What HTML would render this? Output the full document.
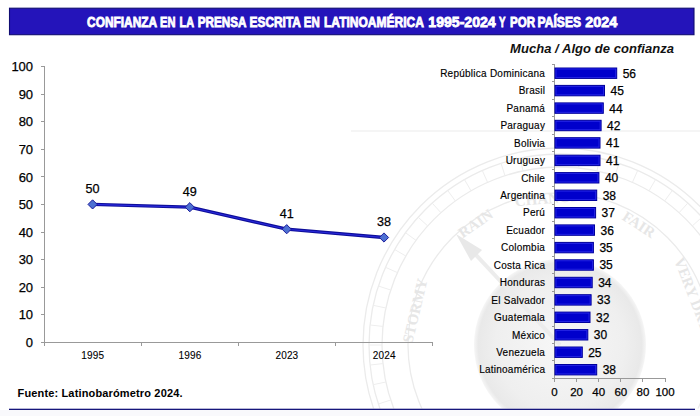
<!DOCTYPE html>
<html><head><meta charset="utf-8"><style>
html,body{margin:0;padding:0;background:#fff;}
body{width:700px;height:416px;overflow:hidden;position:relative;font-family:"Liberation Sans",sans-serif;}
svg{position:absolute;left:0;top:0;}
</style></head><body>
<svg width="700" height="416" viewBox="0 0 700 416">
<defs><clipPath id="wc"><rect x="0" y="0" width="700" height="408.5"/></clipPath></defs>
<g clip-path="url(#wc)">
<defs><radialGradient id="kn" cx="0.5" cy="0.5" r="0.5"><stop offset="0" stop-color="#f7f7f7"/><stop offset="0.75" stop-color="#efefef"/><stop offset="0.95" stop-color="#e9e9e9"/><stop offset="1" stop-color="#f6f6f6"/></radialGradient></defs>
<g fill="none" stroke="#ebebeb" stroke-width="1.3">
<circle cx="560" cy="345" r="197"/>
<circle cx="560" cy="345" r="191"/>
<circle cx="560" cy="345" r="178"/>
<circle cx="560" cy="345" r="152"/>
</g>
<path d="M738.0,345.0 L751.0,345.0 M737.0,363.6 L750.0,365.0 M734.1,382.0 L746.8,384.7 M729.3,400.0 L741.7,404.0 M722.6,417.4 L734.5,422.7 M714.2,434.0 L725.4,440.5 M704.0,449.6 L714.5,457.3 M692.3,464.1 L701.9,472.8 M679.1,477.3 L687.8,486.9 M664.6,489.0 L672.3,499.5 M649.0,499.2 L655.5,510.4 M632.4,507.6 L637.7,519.5 M615.0,514.3 L619.0,526.7 M597.0,519.1 L599.7,531.8 M578.6,522.0 L580.0,535.0 M560.0,523.0 L560.0,536.0 M541.4,522.0 L540.0,535.0 M523.0,519.1 L520.3,531.8 M505.0,514.3 L501.0,526.7 M487.6,507.6 L482.3,519.5 M471.0,499.2 L464.5,510.4 M455.4,489.0 L447.7,499.5 M440.9,477.3 L432.2,486.9 M427.7,464.1 L418.1,472.8 M416.0,449.6 L405.5,457.3 M405.8,434.0 L394.6,440.5 M397.4,417.4 L385.5,422.7 M390.7,400.0 L378.3,404.0 M385.9,382.0 L373.2,384.7 M383.0,363.6 L370.0,365.0 M382.0,345.0 L369.0,345.0 M383.0,326.4 L370.0,325.0 M385.9,308.0 L373.2,305.3 M390.7,290.0 L378.3,286.0 M397.4,272.6 L385.5,267.3 M405.8,256.0 L394.6,249.5 M416.0,240.4 L405.5,232.7 M427.7,225.9 L418.1,217.2 M440.9,212.7 L432.2,203.1 M455.4,201.0 L447.7,190.5 M471.0,190.8 L464.5,179.6 M487.6,182.4 L482.3,170.5 M505.0,175.7 L501.0,163.3 M523.0,170.9 L520.3,158.2 M541.4,168.0 L540.0,155.0 M560.0,167.0 L560.0,154.0 M578.6,168.0 L580.0,155.0 M597.0,170.9 L599.7,158.2 M615.0,175.7 L619.0,163.3 M632.4,182.4 L637.7,170.5 M649.0,190.8 L655.5,179.6 M664.6,201.0 L672.3,190.5 M679.1,212.7 L687.8,203.1 M692.3,225.9 L701.9,217.2 M704.0,240.4 L714.5,232.7 M714.2,256.0 L725.4,249.5 M722.6,272.6 L734.5,267.3 M729.3,290.0 L741.7,286.0 M734.1,308.0 L746.8,305.3 M737.0,326.4 L750.0,325.0" stroke="#eeeeee" stroke-width="1"/>
<circle cx="560" cy="345" r="86" fill="url(#kn)"/>
<g font-family="Liberation Serif" font-weight="bold" font-size="15" fill="#e6e6e6" text-anchor="middle">
<text x="419.9" y="311.9" transform="rotate(-76.69999999999999 419.9 311.9)">STORMY</text>
<text x="478.4" y="227.6" transform="rotate(-34.8 478.4 227.6)">RAIN</text>
<text x="548.1" y="203.5" transform="rotate(-4.799999999999997 548.1 203.5)">CHANGE</text>
<text x="636.1" y="228.7" transform="rotate(33.2 636.1 228.7)">FAIR</text>
<text x="687.9" y="295.9" transform="rotate(69 687.9 295.9)">VERY DRY</text>
</g>
<path d="M560,345 L462,240" stroke="#ececec" stroke-width="4"/>
<path d="M456,234 L482,250 L471,261 Z" fill="#e8e8e8"/>
</g>
<line x1="351" y1="131" x2="700" y2="131" stroke="#f5f5f5" stroke-width="2"/>
<rect x="0" y="410" width="700" height="6" fill="#f9f9fc"/>
<g stroke="#999999" stroke-width="1" shape-rendering="crispEdges">
<line x1="44.5" y1="66.7" x2="44.5" y2="345.7"/>
<line x1="41" y1="342.2" x2="432" y2="342.2"/>
<line x1="41" y1="342.2" x2="44.5" y2="342.2"/>
<line x1="41" y1="314.6" x2="44.5" y2="314.6"/>
<line x1="41" y1="287.1" x2="44.5" y2="287.1"/>
<line x1="41" y1="259.6" x2="44.5" y2="259.6"/>
<line x1="41" y1="232.0" x2="44.5" y2="232.0"/>
<line x1="41" y1="204.4" x2="44.5" y2="204.4"/>
<line x1="41" y1="176.9" x2="44.5" y2="176.9"/>
<line x1="41" y1="149.3" x2="44.5" y2="149.3"/>
<line x1="41" y1="121.8" x2="44.5" y2="121.8"/>
<line x1="41" y1="94.2" x2="44.5" y2="94.2"/>
<line x1="41" y1="66.7" x2="44.5" y2="66.7"/>
<line x1="44.5" y1="342.2" x2="44.5" y2="345.7"/>
<line x1="141.5" y1="342.2" x2="141.5" y2="345.7"/>
<line x1="238.5" y1="342.2" x2="238.5" y2="345.7"/>
<line x1="335.5" y1="342.2" x2="335.5" y2="345.7"/>
<line x1="432.5" y1="342.2" x2="432.5" y2="345.7"/>
</g>
<g font-family="Liberation Sans" font-size="13" fill="#000" stroke="#000" stroke-width="0.25" text-anchor="end">
<text x="33.1" y="346.8">0</text>
<text x="33.1" y="319.2">10</text>
<text x="33.1" y="291.7">20</text>
<text x="33.1" y="264.2">30</text>
<text x="33.1" y="236.6">40</text>
<text x="33.1" y="209.0">50</text>
<text x="33.1" y="181.5">60</text>
<text x="33.1" y="153.9">70</text>
<text x="33.1" y="126.4">80</text>
<text x="33.1" y="98.8">90</text>
<text x="33.1" y="71.3">100</text>
</g>
<g font-family="Liberation Sans" font-size="10" letter-spacing="0.15" fill="#000" stroke="#000" stroke-width="0.1" text-anchor="middle">
<text x="92.8" y="359">1995</text>
<text x="190.0" y="359">1996</text>
<text x="286.9" y="359">2023</text>
<text x="384.2" y="359">2024</text>
</g>
<path d="M92.6,204.4 L189.8,207.2 L286.7,229.2 L384.0,237.5" fill="none" stroke="#0e0e9a" stroke-width="3.3" stroke-linejoin="round"/>
<path d="M92.6,204.4 L189.8,207.2 L286.7,229.2 L384.0,237.5" fill="none" stroke="#2a2ade" stroke-width="1.1" stroke-linejoin="round"/>
<path d="M92.6,199.8 L97.19999999999999,204.4 L92.6,209.0 L88.0,204.4 Z" fill="#4d70d2" stroke="#1c1c9c" stroke-width="1"/>
<path d="M189.8,202.6 L194.4,207.2 L189.8,211.8 L185.20000000000002,207.2 Z" fill="#4d70d2" stroke="#1c1c9c" stroke-width="1"/>
<path d="M286.7,224.6 L291.3,229.2 L286.7,233.8 L282.09999999999997,229.2 Z" fill="#4d70d2" stroke="#1c1c9c" stroke-width="1"/>
<path d="M384,232.9 L388.6,237.5 L384,242.1 L379.4,237.5 Z" fill="#4d70d2" stroke="#1c1c9c" stroke-width="1"/>
<g font-family="Liberation Sans" font-size="12.6" fill="#000" stroke="#000" stroke-width="0.25" text-anchor="middle">
<text x="92.6" y="192.8">50</text>
<text x="189.8" y="195.6">49</text>
<text x="286.7" y="217.6">41</text>
<text x="384" y="225.9">38</text>
</g>
<g stroke="#999999" stroke-width="1" shape-rendering="crispEdges">
<line x1="554.5" y1="64.45" x2="554.5" y2="378.4"/>
<line x1="554.5" y1="378.4" x2="665.5" y2="378.4"/>
<line x1="551.5" y1="64.5" x2="554.5" y2="64.5"/>
<line x1="551.5" y1="81.9" x2="554.5" y2="81.9"/>
<line x1="551.5" y1="99.3" x2="554.5" y2="99.3"/>
<line x1="551.5" y1="116.8" x2="554.5" y2="116.8"/>
<line x1="551.5" y1="134.2" x2="554.5" y2="134.2"/>
<line x1="551.5" y1="151.7" x2="554.5" y2="151.7"/>
<line x1="551.5" y1="169.1" x2="554.5" y2="169.1"/>
<line x1="551.5" y1="186.5" x2="554.5" y2="186.5"/>
<line x1="551.5" y1="204.0" x2="554.5" y2="204.0"/>
<line x1="551.5" y1="221.4" x2="554.5" y2="221.4"/>
<line x1="551.5" y1="238.9" x2="554.5" y2="238.9"/>
<line x1="551.5" y1="256.3" x2="554.5" y2="256.3"/>
<line x1="551.5" y1="273.7" x2="554.5" y2="273.7"/>
<line x1="551.5" y1="291.2" x2="554.5" y2="291.2"/>
<line x1="551.5" y1="308.6" x2="554.5" y2="308.6"/>
<line x1="551.5" y1="326.1" x2="554.5" y2="326.1"/>
<line x1="551.5" y1="343.5" x2="554.5" y2="343.5"/>
<line x1="551.5" y1="360.9" x2="554.5" y2="360.9"/>
<line x1="551.5" y1="378.4" x2="554.5" y2="378.4"/>
<line x1="554.5" y1="378.4" x2="554.5" y2="381.9"/>
<line x1="576.6" y1="378.4" x2="576.6" y2="381.9"/>
<line x1="598.7" y1="378.4" x2="598.7" y2="381.9"/>
<line x1="620.8" y1="378.4" x2="620.8" y2="381.9"/>
<line x1="642.9" y1="378.4" x2="642.9" y2="381.9"/>
<line x1="665.0" y1="378.4" x2="665.0" y2="381.9"/>
</g>
<rect x="555.0" y="68.0" width="61.7" height="10.4" fill="#0000cc" stroke="#00009c" stroke-width="1"/>
<rect x="556.0" y="69.0" width="59.7" height="8.4" fill="none" stroke="#2a2ae8" stroke-width="0.8"/>
<rect x="555.0" y="85.4" width="49.5" height="10.4" fill="#0000cc" stroke="#00009c" stroke-width="1"/>
<rect x="556.0" y="86.4" width="47.5" height="8.4" fill="none" stroke="#2a2ae8" stroke-width="0.8"/>
<rect x="555.0" y="102.9" width="48.3" height="10.4" fill="#0000cc" stroke="#00009c" stroke-width="1"/>
<rect x="556.0" y="103.9" width="46.3" height="8.4" fill="none" stroke="#2a2ae8" stroke-width="0.8"/>
<rect x="555.0" y="120.3" width="46.1" height="10.4" fill="#0000cc" stroke="#00009c" stroke-width="1"/>
<rect x="556.0" y="121.3" width="44.1" height="8.4" fill="none" stroke="#2a2ae8" stroke-width="0.8"/>
<rect x="555.0" y="137.7" width="45.0" height="10.4" fill="#0000cc" stroke="#00009c" stroke-width="1"/>
<rect x="556.0" y="138.7" width="43.0" height="8.4" fill="none" stroke="#2a2ae8" stroke-width="0.8"/>
<rect x="555.0" y="155.2" width="45.0" height="10.4" fill="#0000cc" stroke="#00009c" stroke-width="1"/>
<rect x="556.0" y="156.2" width="43.0" height="8.4" fill="none" stroke="#2a2ae8" stroke-width="0.8"/>
<rect x="555.0" y="172.6" width="43.9" height="10.4" fill="#0000cc" stroke="#00009c" stroke-width="1"/>
<rect x="556.0" y="173.6" width="41.9" height="8.4" fill="none" stroke="#2a2ae8" stroke-width="0.8"/>
<rect x="555.0" y="190.1" width="41.7" height="10.4" fill="#0000cc" stroke="#00009c" stroke-width="1"/>
<rect x="556.0" y="191.1" width="39.7" height="8.4" fill="none" stroke="#2a2ae8" stroke-width="0.8"/>
<rect x="555.0" y="207.5" width="40.6" height="10.4" fill="#0000cc" stroke="#00009c" stroke-width="1"/>
<rect x="556.0" y="208.5" width="38.6" height="8.4" fill="none" stroke="#2a2ae8" stroke-width="0.8"/>
<rect x="555.0" y="224.9" width="39.5" height="10.4" fill="#0000cc" stroke="#00009c" stroke-width="1"/>
<rect x="556.0" y="225.9" width="37.5" height="8.4" fill="none" stroke="#2a2ae8" stroke-width="0.8"/>
<rect x="555.0" y="242.4" width="38.4" height="10.4" fill="#0000cc" stroke="#00009c" stroke-width="1"/>
<rect x="556.0" y="243.4" width="36.4" height="8.4" fill="none" stroke="#2a2ae8" stroke-width="0.8"/>
<rect x="555.0" y="259.8" width="38.4" height="10.4" fill="#0000cc" stroke="#00009c" stroke-width="1"/>
<rect x="556.0" y="260.8" width="36.4" height="8.4" fill="none" stroke="#2a2ae8" stroke-width="0.8"/>
<rect x="555.0" y="277.3" width="37.2" height="10.4" fill="#0000cc" stroke="#00009c" stroke-width="1"/>
<rect x="556.0" y="278.3" width="35.2" height="8.4" fill="none" stroke="#2a2ae8" stroke-width="0.8"/>
<rect x="555.0" y="294.7" width="36.1" height="10.4" fill="#0000cc" stroke="#00009c" stroke-width="1"/>
<rect x="556.0" y="295.7" width="34.1" height="8.4" fill="none" stroke="#2a2ae8" stroke-width="0.8"/>
<rect x="555.0" y="312.1" width="35.0" height="10.4" fill="#0000cc" stroke="#00009c" stroke-width="1"/>
<rect x="556.0" y="313.1" width="33.0" height="8.4" fill="none" stroke="#2a2ae8" stroke-width="0.8"/>
<rect x="555.0" y="329.6" width="32.8" height="10.4" fill="#0000cc" stroke="#00009c" stroke-width="1"/>
<rect x="556.0" y="330.6" width="30.8" height="8.4" fill="none" stroke="#2a2ae8" stroke-width="0.8"/>
<rect x="555.0" y="347.0" width="27.3" height="10.4" fill="#0000cc" stroke="#00009c" stroke-width="1"/>
<rect x="556.0" y="348.0" width="25.3" height="8.4" fill="none" stroke="#2a2ae8" stroke-width="0.8"/>
<rect x="555.0" y="364.5" width="41.7" height="10.4" fill="#0000cc" stroke="#00009c" stroke-width="1"/>
<rect x="556.0" y="365.5" width="39.7" height="8.4" fill="none" stroke="#2a2ae8" stroke-width="0.8"/>
<g font-family="Liberation Sans" font-size="10" letter-spacing="0.25" fill="#000" stroke="#000" stroke-width="0.15" text-anchor="end">
<text x="545.2" y="76.9">República Dominicana</text>
<text x="545.2" y="94.3">Brasil</text>
<text x="545.2" y="111.8">Panamá</text>
<text x="545.2" y="129.2">Paraguay</text>
<text x="545.2" y="146.6">Bolivia</text>
<text x="545.2" y="164.1">Uruguay</text>
<text x="545.2" y="181.5">Chile</text>
<text x="545.2" y="198.9">Argentina</text>
<text x="545.2" y="216.4">Perú</text>
<text x="545.2" y="233.8">Ecuador</text>
<text x="545.2" y="251.3">Colombia</text>
<text x="545.2" y="268.7">Costa Rica</text>
<text x="545.2" y="286.2">Honduras</text>
<text x="545.2" y="303.6">El Salvador</text>
<text x="545.2" y="321.0">Guatemala</text>
<text x="545.2" y="338.5">México</text>
<text x="545.2" y="355.9">Venezuela</text>
<text x="545.2" y="373.4">Latinoamérica</text>
</g>
<g font-family="Liberation Sans" font-size="12" fill="#000" stroke="#000" stroke-width="0.25">
<text x="622.7" y="77.6">56</text>
<text x="610.5" y="95.0">45</text>
<text x="609.3" y="112.5">44</text>
<text x="607.1" y="129.9">42</text>
<text x="606.0" y="147.3">41</text>
<text x="606.0" y="164.8">41</text>
<text x="604.9" y="182.2">40</text>
<text x="602.7" y="199.7">38</text>
<text x="601.6" y="217.1">37</text>
<text x="600.5" y="234.5">36</text>
<text x="599.4" y="252.0">35</text>
<text x="599.4" y="269.4">35</text>
<text x="598.2" y="286.9">34</text>
<text x="597.1" y="304.3">33</text>
<text x="596.0" y="321.7">32</text>
<text x="593.8" y="339.2">30</text>
<text x="588.2" y="356.6">25</text>
<text x="602.7" y="374.1">38</text>
</g>
<g font-family="Liberation Sans" font-size="11.5" fill="#000" stroke="#000" stroke-width="0.25" text-anchor="middle">
<text x="554.5" y="396.4">0</text>
<text x="576.6" y="396.4">20</text>
<text x="598.7" y="396.4">40</text>
<text x="620.8" y="396.4">60</text>
<text x="642.9" y="396.4">80</text>
<text x="665.0" y="396.4">100</text>
</g>
<rect x="9" y="408.7" width="686" height="1.3" fill="#16167c"/>
<rect x="9.5" y="8.2" width="684.5" height="26.5" fill="#2414ba" stroke="#100c72" stroke-width="1.1"/>
<g font-family="Liberation Sans" font-weight="bold" font-size="14.8" fill="#fff" stroke="#fff" stroke-width="0.85">
<text x="87.1" y="27.3" textLength="70.1" lengthAdjust="spacingAndGlyphs">CONFIANZA</text>
<text x="160.0" y="27.3" textLength="15.4" lengthAdjust="spacingAndGlyphs">EN</text>
<text x="179.5" y="27.3" textLength="14.5" lengthAdjust="spacingAndGlyphs">LA</text>
<text x="197.8" y="27.3" textLength="48.7" lengthAdjust="spacingAndGlyphs">PRENSA</text>
<text x="249.5" y="27.3" textLength="51.4" lengthAdjust="spacingAndGlyphs">ESCRITA</text>
<text x="303.8" y="27.3" textLength="15.9" lengthAdjust="spacingAndGlyphs">EN</text>
<text x="324.0" y="27.3" textLength="100.0" lengthAdjust="spacingAndGlyphs">LATINOAMÉRICA</text>
<text x="428.3" y="27.3" textLength="67.4" lengthAdjust="spacingAndGlyphs">1995-2024</text>
<text x="498.9" y="27.3" textLength="6.5" lengthAdjust="spacingAndGlyphs">Y</text>
<text x="510.0" y="27.3" textLength="25.1" lengthAdjust="spacingAndGlyphs">POR</text>
<text x="537.5" y="27.3" textLength="43.6" lengthAdjust="spacingAndGlyphs">PAÍSES</text>
<text x="585.2" y="27.3" textLength="32.0" lengthAdjust="spacingAndGlyphs">2024</text>
</g>
<text x="510" y="52.9" font-family="Liberation Sans" font-weight="bold" font-style="italic" font-size="13" fill="#111" textLength="164" lengthAdjust="spacing">Mucha / Algo de confianza</text>
<text x="17.5" y="397" font-family="Liberation Sans" font-weight="bold" font-size="11" fill="#000" textLength="165" lengthAdjust="spacing">Fuente: Latinobarómetro 2024.</text>
</svg>
</body></html>
